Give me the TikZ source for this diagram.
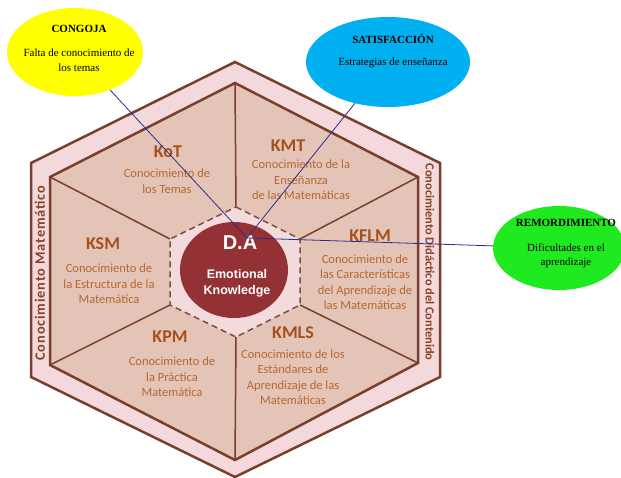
\documentclass[tikz,border=0pt]{standalone}
\usepackage{fontspec}
\setmainfont{Liberation Serif}
\newfontfamily\carl{Carlito}
\newfontfamily\carlsp[LetterSpace=6]{Carlito}
\newfontfamily\arl{Liberation Sans}
\usetikzlibrary{shapes.geometric}
\definecolor{bandpink}{HTML}{F3D9DC}
\definecolor{hexfill}{HTML}{E5C4B8}
\definecolor{hexline}{HTML}{7A3E2C}
\definecolor{centerpink}{HTML}{F3DADD}
\definecolor{darkred}{HTML}{943135}
\definecolor{ktitlecol}{HTML}{A4501C}
\definecolor{ktextcol}{HTML}{B5682F}
\definecolor{sidecol}{HTML}{8A4220}
\definecolor{yell}{HTML}{FFFF00}
\definecolor{skyblue}{HTML}{00B0F0}
\definecolor{lgreen}{HTML}{1FEA1F}
\definecolor{navyline}{HTML}{2B2F8C}
\begin{document}
\begin{tikzpicture}[x=1pt,y=-1pt,
  ktitle/.style={font=\carl\bfseries\fontsize{18}{20}\selectfont, text=ktitlecol, inner sep=0pt},
  kbody/.style={font=\carl\fontsize{12.5}{15.5}\selectfont, text=ktextcol, align=center, inner sep=0pt},
  sidelabel/.style={text=sidecol, inner sep=0pt},
  bubble/.style={ellipse, draw=none, inner sep=0pt},
  btitle/.style={font=\bfseries\fontsize{11}{13}\selectfont, inner sep=0pt},
  btext/.style={font=\fontsize{11}{14.5}\selectfont, align=center, inner sep=0pt},
  connector/.style={draw=navyline, line width=0.8pt},
  spoke/.style={draw=hexline, line width=1.5pt}]
\useasboundingbox (0,0) rectangle (621,477);
% outer band
\draw[fill=bandpink, draw=hexline, line width=2.5pt, line join=miter]
  (235,62) -- (440,163) -- (440,377) -- (235,477) -- (31,377) -- (31,163) -- cycle;
% inner hexagon
\draw[fill=hexfill, draw=hexline, line width=2.5pt]
  (235,83) coordinate (i1) -- (418,177) coordinate (i2) -- (418,363) coordinate (i3)
  -- (235,460) coordinate (i4) -- (50,365) coordinate (i5) -- (50,177) coordinate (i6) -- cycle;
% central hexagon corners
\coordinate (c1) at (236,207);
\coordinate (c2) at (300,239);
\coordinate (c3) at (300,305);
\coordinate (c4) at (236,337);
\coordinate (c5) at (170,305);
\coordinate (c6) at (170,239);
\draw[spoke] (c1) -- (i1);
\draw[spoke] (c2) -- (i2);
\draw[spoke] (c3) -- (i3);
\draw[spoke] (c4) -- (i4);
\draw[spoke] (c5) -- (i5);
\draw[spoke] (c6) -- (i6);
\draw[fill=centerpink, draw=hexline!80!gray, line width=1.5pt, dash pattern=on 6pt off 4pt]
  (c1) -- (c2) -- (c3) -- (c4) -- (c5) -- (c6) -- cycle;
% center circle
\node[ellipse, fill=darkred, minimum width=108pt, minimum height=96pt, inner sep=0pt] (core) at (234,270) {};
\node[font=\arl\bfseries\fontsize{20}{22}\selectfont, text=white, inner sep=0pt] (da) at (240,243) {D.A};
\node[font=\arl\bfseries\fontsize{12.5}{15}\selectfont, text=white, align=center, inner sep=0pt] (ek) at (237,283) {Emotional\\[1pt]Knowledge};
% section labels
\node[ktitle] (kot) at (168,152) {KoT};
\node[kbody] (kotb) at (167,181) {Conocimiento de\\los Temas};
\node[ktitle] (kmt) at (288,146) {KMT};
\node[kbody] (kmtb) at (301,180) {Conocimiento de la\\Enseñanza\\de las Matemáticas};
\node[ktitle] (ksm) at (103,244) {KSM};
\node[kbody] (ksmb) at (109,284) {Conocimiento de\\la Estructura de la\\Matemática};
\node[ktitle] (kflm) at (370,236) {KFLM};
\node[kbody] (kflmb) at (365,282) {Conocimiento de\\las Características\\del Aprendizaje de\\las Matemáticas};
\node[ktitle] (kpm) at (170,337) {KPM};
\node[kbody] (kpmb) at (172,377) {Conocimiento de\\la Práctica\\Matemática};
\node[ktitle] (kmls) at (293,333) {KMLS};
\node[kbody] (kmlsb) at (293,377) {Conocimiento de los\\Estándares de\\Aprendizaje de las\\Matemáticas};
% side labels
\node[sidelabel, font=\carlsp\bfseries\fontsize{14.3}{16}\selectfont, rotate=90] (cm) at (40,273) {Conocimiento Matemático};
\node[sidelabel, font=\carl\bfseries\fontsize{12.4}{14}\selectfont, rotate=-90] (cdc) at (430,262) {Conocimiento Didáctico del Contenido};
% bubbles
\node[bubble, fill=yell, minimum width=136pt, minimum height=88pt] (cong) at (75,52) {};
\node[btitle] (congt) at (79,29) {CONGOJA};
\node[btext] (congx) at (79,60) {Falta de conocimiento de\\los temas};
\node[bubble, fill=skyblue, minimum width=164pt, minimum height=90pt] (sat) at (388,62) {};
\node[btitle] (satt) at (393,39) {SATISFACCIÓN};
\node[btext] (satx) at (393,63) {Estrategias de enseñanza};
\node[bubble, fill=lgreen, minimum width=132pt, minimum height=84pt] (rem) at (559,248) {};
\node[btitle] (remt) at (566,223) {REMORDIMIENTO};
\node[btext] (remx) at (566,256) {Dificultades en el\\aprendizaje};
% connectors
\coordinate (hub) at (247,238);
\draw[connector] (cong) -- (hub);
\draw[connector] (sat) -- (hub);
\draw[connector] (rem) -- (hub);
\end{tikzpicture}
\end{document}
